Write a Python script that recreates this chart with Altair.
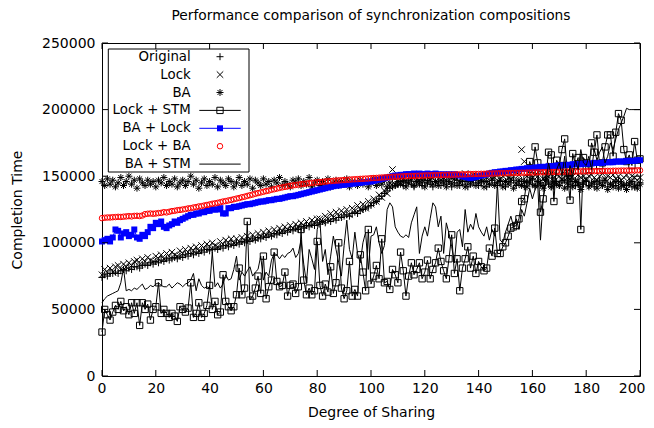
import altair as alt
import pandas as pd

# ---------------- data (values in thousands) ----------------
x_values = list(range(0, 201))

original = [
    74, 76, 75, 77, 77, 78, 77, 79, 80, 79,
    81, 80, 82, 82, 81, 83, 84, 83, 85, 84,
    86, 85, 87, 86, 88, 87, 88, 89, 88, 90,
    89, 91, 90, 92, 91, 93, 92, 94, 93, 95,
    94, 95, 96, 95, 97, 96, 98, 97, 99, 98,
    100, 99, 101, 100, 102, 101, 103, 102, 104, 103,
    105, 104, 106, 105, 107, 106, 108, 107, 109, 108,
    110, 109, 111, 110, 112, 111, 113, 112, 114, 113,
    115, 114, 116, 115, 117, 116, 118, 117, 119, 119,
    120, 121, 120, 122, 123, 122, 124, 125, 126, 127,
    128, 130, 131, 133, 135, 137, 139, 141, 142, 143,
    144, 146, 143, 145, 147, 144, 142, 146, 145, 143,
    145, 147, 144, 142, 146, 145, 143, 147, 144, 146,
    142, 145, 147, 143, 146, 144, 142, 146, 145, 147,
    143, 145, 146, 142, 144, 147, 145, 143, 146, 144,
    142, 146, 145, 147, 143, 144, 146, 142, 145, 147,
    144, 142, 146, 145, 143, 147, 144, 142, 145, 146,
    143, 145, 147, 142, 144, 146, 143, 145, 142, 144,
    146, 143, 145, 142, 144, 147, 143, 145, 142, 144,
    145, 143, 146, 142, 144, 143, 145, 142, 144, 143,
    145]

lock = [
    76, 80, 78, 81, 78, 82, 83, 80, 84, 82,
    85, 83, 86, 87, 84, 88, 86, 89, 87, 86,
    90, 88, 91, 88, 92, 90, 93, 91, 90, 94,
    92, 95, 93, 96, 94, 97, 94, 98, 96, 99,
    97, 100, 98, 97, 101, 99, 102, 100, 103, 100,
    103, 101, 104, 102, 105, 103, 106, 103, 107, 105,
    108, 106, 109, 106, 110, 108, 111, 109, 112, 110,
    113, 111, 114, 112, 115, 113, 116, 114, 117, 115,
    118, 118, 116, 120, 118, 122, 119, 123, 120, 124,
    122, 125, 121, 126, 124, 128, 125, 129, 126, 131,
    129, 133, 131, 136, 134, 139, 137, 142, 155, 144,
    146, 145, 148, 146, 149, 147, 150, 148, 147, 149,
    148, 150, 147, 149, 151, 148, 150, 149, 147, 150,
    149, 151, 148, 150, 149, 152, 148, 150, 151, 149,
    150, 148, 151, 149, 150, 152, 149, 151, 148, 150,
    151, 149, 152, 150, 153, 151, 170, 161, 150, 152,
    149, 151, 150, 153, 148, 151, 150, 152, 149, 151,
    150, 148, 152, 149, 151, 150, 147, 151, 149, 150,
    148, 150, 151, 149, 147, 150, 152, 148, 150, 149,
    151, 148, 150, 147, 149, 151, 148, 150, 149, 147,
    149]

ba = [
    146, 143, 148, 144, 147, 142, 145, 149, 143, 146,
    150, 144, 147, 141, 148, 145, 143, 147, 144, 146,
    142, 147, 145, 149, 143, 146, 144, 148, 142, 145,
    147, 143, 146, 150, 144, 147, 141, 145, 148, 143,
    146, 144, 149, 142, 147, 145, 143, 148, 146, 142,
    145, 149, 143, 146, 144, 148, 141, 147, 145, 143,
    148, 144, 146, 142, 147, 145, 149, 143, 146, 144,
    142, 147, 145, 148, 143, 146, 144, 149, 142, 145,
    147, 143, 146, 144, 148, 142, 145, 147, 143, 146,
    144, 148, 142, 146, 145, 143, 147, 144, 146, 142,
    145, 148, 143, 146, 144, 147, 142, 145, 149, 143,
    146, 144, 147, 142, 145, 148, 143, 146, 144, 147,
    142, 145, 148, 144, 146, 143, 147, 145, 142, 146,
    144, 148, 143, 145, 147, 142, 146, 144, 148, 143,
    145, 147, 142, 146, 144, 148, 143, 145, 147, 142,
    146, 144, 148, 141, 145, 147, 143, 146, 142, 145,
    148, 143, 146, 144, 141, 147, 145, 142, 146, 144,
    143, 147, 141, 145, 148, 142, 146, 144, 140, 145,
    147, 142, 144, 146, 141, 145, 143, 147, 140, 144,
    142, 146, 141, 145, 143, 140, 144, 146, 142, 141,
    144]

lock_stm = [
    33, 50, 46, 42, 48, 53, 50, 56, 49, 52,
    46, 55, 47, 55, 38, 55, 50, 54, 42, 50,
    52, 70, 47, 50, 47, 44, 47, 45, 41, 52,
    50, 48, 51, 70, 44, 47, 55, 44, 47, 53,
    68, 50, 56, 46, 48, 76, 56, 52, 49, 52,
    61, 81, 61, 66, 116, 57, 60, 66, 75, 62,
    90, 58, 67, 72, 93, 71, 67, 68, 78, 60,
    68, 69, 62, 67, 110, 72, 61, 66, 61, 64,
    101, 68, 60, 69, 63, 82, 62, 70, 100, 66,
    58, 64, 86, 60, 65, 60, 91, 78, 64, 110,
    69, 75, 83, 73, 103, 70, 71, 65, 80, 76,
    70, 93, 79, 60, 75, 85, 76, 80, 85, 73,
    78, 87, 73, 80, 85, 96, 86, 79, 73, 88,
    106, 77, 88, 64, 81, 88, 97, 81, 90, 77,
    86, 82, 79, 81, 96, 90, 111, 92, 92, 97,
    100, 105, 111, 112, 113, 118, 131, 133, 148, 161,
    155, 172, 160, 123, 133, 150, 168, 166, 131, 162,
    158, 170, 178, 152, 132, 167, 158, 164, 110, 164,
    160, 155, 175, 168, 181, 158, 160, 172, 181, 181,
    165, 183, 197, 192, 170, 161, 166, 158, 176, 162,
    163]

ba_lock = [
    101, 102, 103, 101, 104, 110, 109, 104, 107, 108,
    105, 106, 110, 104, 103, 106, 105, 108, 112, 111,
    115, 114, 116, 112, 111, 113, 114, 116, 115, 117,
    118, 119, 120, 121, 121, 122, 122, 123, 123, 124,
    124, 125, 125, 125, 126, 122, 122, 126, 126, 127,
    127, 127.5, 128, 128.5, 129, 129, 129.5, 130, 130.5, 131,
    131, 131.5, 132, 132, 132.5, 133, 133, 133.5, 134, 134.5,
    135, 135, 135.5, 136, 136.5, 137, 137.5, 138, 138.5, 139,
    139.5, 140, 140.5, 141, 141.5, 142, 142.5, 143, 143, 143.5,
    143.5, 144, 144, 144.5, 144.5, 145, 145, 145.5, 145.5, 146,
    146, 146.5, 147, 147.5, 148, 148.5, 149, 149.5, 150, 150.5,
    150.5, 151, 151, 151.5, 151.5, 151.5, 152, 151.5, 152, 151.5,
    151.5, 152, 151.5, 151.5, 152, 151.5, 151, 151.5, 151, 151.5,
    151, 151.5, 151, 150.5, 150, 149.5, 149, 148.5, 149, 149.5,
    150, 150.5, 151, 151.5, 152, 152.5, 153, 153, 153.5, 153.5,
    154, 154, 154.5, 154.5, 155, 155, 155.5, 155.5, 156, 156,
    156, 156.5, 156.5, 157, 157, 157, 157.5, 157.5, 157.5, 158,
    158, 158, 158.5, 158.5, 158.5, 159, 159, 159, 159, 159.5,
    159.5, 159.5, 159.5, 160, 160, 160, 160, 160.5, 160.5, 160.5,
    160.5, 161, 161, 161, 161, 161.5, 161.5, 161.5, 161.5, 162,
    162]

lock_ba = [
    118.5, 118.8, 119, 119, 119.2, 119.3, 119.5, 119.4, 119.6, 119.8,
    120, 119.8, 120.2, 120.3, 120.1, 120.5, 121.5, 121.8, 122, 121.8,
    122, 122.3, 122.5, 123, 122.8, 123.3, 123.8, 124, 124.5, 124.7,
    125, 125.3, 125.8, 126, 126.5, 126.8, 127.3, 127.5, 128, 128.4,
    128.8, 129.3, 129.6, 130, 130.5, 131, 131.3, 131.8, 132.2, 132.7,
    133.2, 133.6, 134.2, 134.6, 135.2, 135.7, 136.2, 136.8, 137.3, 137.8,
    138.3, 138.8, 139.2, 139.8, 140.2, 140.7, 141.2, 141.6, 142, 142.4,
    142.8, 143.1, 143.4, 143.7, 144, 144.2, 144.5, 144.8, 145, 145.2,
    145.4, 145.6, 145.8, 146, 146.2, 146.3, 146.5, 146.7, 146.8, 147,
    147.1, 147.3, 147.4, 147.6, 147.7, 147.8, 148, 148.1, 148.2, 148.3,
    148.5, 148.6, 148.7, 148.9, 149, 149.1, 149.2, 149.3, 149.5, 149.6,
    149.7, 149.8, 149.9, 150, 150.1, 150.2, 150.2, 150.3, 150.4, 150.4,
    150.5, 150.6, 150.6, 150.7, 150.8, 150.8, 150.9, 151, 151, 151.1,
    151.1, 151.2, 151.3, 151.3, 151.4, 151.4, 151.5, 151.6, 151.6, 151.7,
    151.7, 151.8, 151.8, 151.9, 152, 152, 152.1, 152.1, 152.2, 152.2,
    152.3, 152.3, 152.4, 152.4, 152.5, 152.5, 152.6, 152.6, 152.7, 152.7,
    152.8, 152.8, 152.9, 152.9, 153, 153, 153.1, 153.1, 153.2, 153.2,
    153.3, 153.3, 153.4, 153.4, 153.5, 153.5, 153.5, 153.6, 153.6, 153.7,
    153.7, 153.7, 153.8, 153.8, 153.9, 153.9, 153.9, 154, 154, 154,
    154.1, 154.1, 154.1, 154.2, 154.2, 154.2, 154.3, 154.3, 154.3, 154.4,
    154.4]

ba_stm = [
    55, 58, 60, 61, 62, 63, 64, 70, 81, 64,
    65, 64, 66, 65, 67, 69, 65, 66, 68, 67,
    69, 70, 68, 67, 67, 69, 66, 68, 70, 69,
    67, 69, 70, 72, 77, 64, 73, 68, 66, 67,
    66, 93, 67, 70, 66, 69, 76, 72, 73, 80,
    90, 72, 78, 75, 79, 82, 75, 78, 80, 90,
    72, 78, 75, 87, 92, 91, 88, 91, 89, 92,
    93, 96, 89, 92, 102, 84, 70, 95, 88, 80,
    110, 117, 86, 95, 76, 90, 105, 95, 85, 75,
    98, 117, 95, 88, 108, 92, 85, 100, 108, 80,
    105, 106, 112, 100, 92, 98, 125, 130, 127, 112,
    108, 105, 104, 106, 104, 115, 121, 127, 92, 105,
    112, 105, 118, 130, 127, 112, 120, 92, 115, 107,
    97, 85, 108, 110, 97, 125, 108, 114, 110, 122,
    112, 108, 105, 112, 102, 110, 105, 145, 102, 100,
    108, 114, 120, 112, 118, 110, 125, 120, 130, 141,
    133, 140, 143, 102, 133, 145, 160, 150, 140, 155,
    160, 150, 165, 145, 158, 150, 162, 155, 170, 160,
    158, 165, 155, 170, 162, 168, 172, 160, 165, 175,
    170, 178, 185, 190, 195, 201, 200, 200, 200, 200,
    200]

series_names = ["Original", "Lock", "BA", "Lock + STM", "BA + Lock", "Lock + BA", "BA + STM"]
x_ticks = [0, 20, 40, 60, 80, 100, 120, 140, 160, 180, 200]
y_ticks = [0, 50000, 100000, 150000, 200000, 250000]

# ---------------- layout ----------------
W, H = 538, 333
XMAX, YMAX = 200, 250000
FONT = "DejaVu Sans"
FS = 13.33
AFS = 14
TFS = 13.8

PLUS = "M-1,0L1,0M0,-1L0,1"
CROSS = "M-1,-1L1,1M-1,1L1,-1"
STAR = "M-1,0L1,0M0,-1L0,1M-0.72,-0.72L0.72,0.72M-0.72,0.72L0.72,-0.72"


def frame(name, vals):
    return pd.DataFrame({"x": x_values, "y": [v * 1000 for v in vals], "series": name})


xs = alt.Scale(domain=[0, XMAX], nice=False, zero=False)
ys = alt.Scale(domain=[0, YMAX], nice=False)

x_axis = alt.Axis(values=x_ticks, title="Degree of Sharing", ticks=False, domain=False,
                  grid=False, labelFlush=True, labelFlushOffset=5, labelOverlap=False,
                  labelPadding=5, titlePadding=10, labelFont=FONT, titleFont=FONT,
                  labelFontSize=AFS, titleFontSize=AFS, titleFontWeight="normal",
                  labelColor="black", titleColor="black")
y_axis = alt.Axis(values=y_ticks, title="Completion Time", format="d", ticks=False,
                  domain=False, grid=False, labelFlush=False, labelOverlap=False,
                  labelPadding=7, titlePadding=17, labelFont=FONT, titleFont=FONT,
                  labelFontSize=AFS, titleFontSize=AFS, titleFontWeight="normal",
                  labelColor="black", titleColor="black")

X = alt.X("x:Q", scale=xs, axis=x_axis)
Y = alt.Y("y:Q", scale=ys, axis=y_axis)


def pts(df, shape, size, color="black", filled=False):
    return alt.Chart(df).mark_point(shape=shape, size=size, filled=filled, color=color,
                                    strokeWidth=1, opacity=1).encode(x=X, y=Y)


def line(df, color="black"):
    return alt.Chart(df).mark_line(color=color, strokeWidth=1).encode(x=X, y=Y)


d_orig = frame("Original", original)
d_lock = frame("Lock", lock)
d_ba = frame("BA", ba)
d_lstm = frame("Lock + STM", lock_stm)
d_balock = frame("BA + Lock", ba_lock)
d_lockba = frame("Lock + BA", lock_ba)
d_bastm = frame("BA + STM", ba_stm)

layers = [
    pts(d_orig, PLUS, 49),
    pts(d_lock, CROSS, 42),
    pts(d_ba, STAR, 49),
    line(d_lstm),
    pts(d_lstm, "square", 40),
    line(d_balock, "#0000ff"),
    pts(d_balock, "square", 36, "#0000ff", True),
    pts(d_lockba, "circle", 30, "#ff0000"),
    line(d_bastm),
]

# inward ticks on all four sides (gnuplot style)
xt = pd.DataFrame({"x": x_ticks})
yt = pd.DataFrame({"y": y_ticks})
TL = 6
layers += [
    alt.Chart(xt).mark_rule(color="black", strokeWidth=1).encode(x=X, y=alt.value(H), y2=alt.value(H - TL)),
    alt.Chart(xt).mark_rule(color="black", strokeWidth=1).encode(x=X, y=alt.value(0), y2=alt.value(TL)),
    alt.Chart(yt).mark_rule(color="black", strokeWidth=1).encode(y=Y, x=alt.value(0), x2=alt.value(TL)),
    alt.Chart(yt).mark_rule(color="black", strokeWidth=1).encode(y=Y, x=alt.value(W), x2=alt.value(W - TL)),
]

# ---------------- legend (gnuplot key, inside top-left) ----------------
def dx(px):
    return px / W * XMAX


def dy(py):
    return (H - py) / H * YMAX


row_y = [13.7 + i * 17.9 for i in range(len(series_names))]
box = pd.DataFrame({"x": [dx(6.3)], "x2": [dx(147)], "y": [dy(6)], "y2": [dy(129)]})
layers.append(alt.Chart(box).mark_rect(fillOpacity=0, stroke="black", strokeWidth=1).encode(
    x=X, x2="x2:Q", y=Y, y2="y2:Q"))

lab = pd.DataFrame({"x": [dx(88.7)] * len(series_names), "y": [dy(r) for r in row_y],
                    "label": series_names})
layers.append(alt.Chart(lab).mark_text(align="right", baseline="middle", font=FONT,
                                       fontSize=FS, color="black").encode(x=X, y=Y, text="label:N"))

MX = dx(118)


def key_point(i, shape, size, color="black", filled=False):
    df = pd.DataFrame({"x": [MX], "y": [dy(row_y[i])]})
    return pts(df, shape, size, color, filled)


def key_line(i, color="black"):
    df = pd.DataFrame({"x": [dx(97.3)], "x2": [dx(138.7)], "y": [dy(row_y[i])]})
    return alt.Chart(df).mark_rule(color=color, strokeWidth=1).encode(x=X, x2="x2:Q", y=Y)


layers += [
    key_point(0, PLUS, 49),
    key_point(1, CROSS, 42),
    key_point(2, STAR, 49),
    key_line(3),
    key_point(3, "square", 40),
    key_line(4, "#0000ff"),
    key_point(4, "square", 36, "#0000ff", True),
    key_point(5, "circle", 30, "#ff0000"),
    key_line(6),
]

chart = alt.layer(*layers).properties(
    width=W, height=H,
    padding={"left": 94, "top": 35, "right": 6, "bottom": 44},
    autosize=alt.AutoSizeParams(type="none"),
    title=alt.TitleParams("Performance comparison of synchronization compositions",
                          font=FONT, fontSize=TFS, fontWeight="normal", color="black",
                          anchor="middle", frame="group", offset=13),
).configure_view(stroke="black", strokeWidth=1)

chart.save("out.html", embed_options={"renderer": "svg", "actions": False})
